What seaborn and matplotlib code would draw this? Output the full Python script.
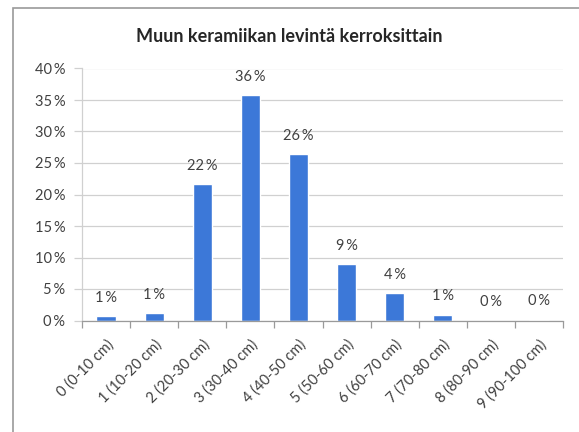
import numpy as np
import matplotlib
matplotlib.use("Agg")
import matplotlib.pyplot as plt
import seaborn as sns
from matplotlib.patches import Rectangle
from matplotlib.ticker import FuncFormatter, FixedLocator

# data (percent of finds per layer)
layers = ["0 (0-10 cm)", "1 (10-20 cm)", "2 (20-30 cm)", "3 (30-40 cm)", "4 (40-50 cm)",
          "5 (50-60 cm)", "6 (60-70 cm)", "7 (70-80 cm)", "8 (80-90 cm)", "9 (90-100 cm)"]
share = [0.7, 1.2, 21.7, 35.8, 26.4, 8.9, 4.4, 0.95, 0.0, 0.15]

sns.set_theme(style="white")
plt.rcParams["font.family"] = ["Lato", "DejaVu Sans"]

txt = "#404040"
grid_c = "#d0d0d0"
fig = plt.figure(figsize=(5.79, 4.32), dpi=100)
ax = fig.add_axes([82 / 579, 1 - 320.5 / 432, (563 - 82) / 579, (320.5 - 68.5) / 432])

sns.barplot(x=layers, y=share, color="#3c78d8", width=0.4, saturation=1, ax=ax)

ax.set_ylim(0, 40)
ax.set_xlim(-0.5, len(layers) - 0.5)
ax.set_yticks(np.arange(0, 41, 5))
ax.yaxis.set_major_formatter(FuncFormatter(lambda v, p: f"{v:.0f}\u2009%"))
ax.grid(axis="y", color=grid_c, linewidth=0.9)
ax.set_axisbelow(True)

for s in ["top", "right"]:
    ax.spines[s].set_visible(False)
ax.spines["left"].set_color(grid_c)
ax.spines["left"].set_linewidth(0.9)
ax.spines["bottom"].set_color("#9a9a9a")
ax.spines["bottom"].set_linewidth(0.9)

ax.xaxis.set_minor_locator(FixedLocator(np.arange(-0.5, len(layers), 1.0)))
ax.tick_params(axis="x", which="major", length=0, pad=12)
ax.tick_params(axis="x", which="minor", length=5, color="#9a9a9a", width=0.9, bottom=True)
ax.tick_params(axis="y", length=6, color=grid_c, width=0.9, left=True, pad=6,
               labelsize=10.5, labelcolor=txt)
ax.set_xticks(range(len(layers)))
ax.set_xticklabels(layers, rotation=45, ha="right", rotation_mode="anchor",
                   fontsize=10.5, color=txt)
ax.set_xlabel("")
ax.set_ylabel("")

ax.bar_label(ax.containers[0], labels=[f"{v:.0f}\u2009%" for v in share],
             padding=8, fontsize=10.5, color=txt)

fig.text(0.5, 1 - 36 / 432, "Muun keramiikan levintä kerroksittain",
         ha="center", va="center", fontsize=13, fontweight="bold", color="#262626")

# outer chart frame
fig.patches.append(Rectangle((13 / 579, -0.05), 1.0, 1 - 8 / 432 + 0.05,
                             transform=fig.transFigure, fill=False,
                             edgecolor="#9a9a9a", linewidth=1.2))

fig.savefig("out.png", dpi=100)
